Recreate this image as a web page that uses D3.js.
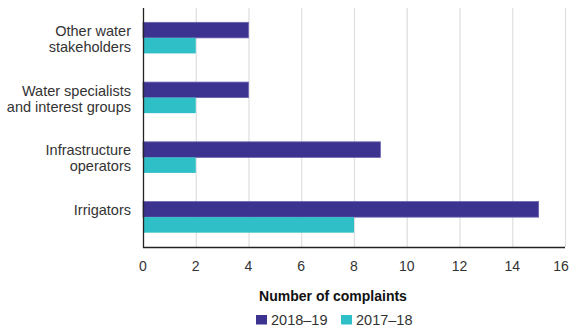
<!DOCTYPE html>
<html><head><meta charset="utf-8">
<script src="https://cdn.jsdelivr.net/npm/d3@7"></script>
<style>body{margin:0;background:#fff}svg{display:block}text{font-family:"Liberation Sans",Arial,sans-serif}</style>
</head><body><svg id="c" width="571" height="329"></svg>
<script>
const categories = [["Other water","stakeholders"],["Water specialists","and interest groups"],["Infrastructure","operators"],["Irrigators"]];
const seriesNames = ["2018–19","2017–18"];
const values2018_19 = [4,4,9,15];
const values2017_18 = [2,2,2,8];
const xTicks = [0,2,4,6,8,10,12,14,16];
const colors = ["#3c3390","#2fbfc7"];

const svg = d3.select("#c");
const pL=143, pR=565, pT=8, pB=247;
const x = d3.scaleLinear().domain([0,16]).range([pL,pR]);
const y = d3.scaleBand().domain(d3.range(categories.length)).range([pT,pB]).paddingInner(0.48).paddingOuter(0.24);
const sub = d3.scaleBand().domain([0,1]).range([0,y.bandwidth()]);

// gridlines
svg.append("g").selectAll("line").data(xTicks.slice(1)).join("line")
  .attr("x1",d=>x(d)+0.5).attr("x2",d=>x(d)+0.5).attr("y1",pT).attr("y2",pB)
  .attr("stroke","#dedede").attr("stroke-width",1.2);

const series=[values2018_19,values2017_18];
series.forEach((vals,si)=>{
  svg.append("g").selectAll("rect").data(vals).join("rect")
    .attr("x",x(0)).attr("y",(d,i)=>y(i)+sub(si))
    .attr("width",d=>x(d)-x(0)).attr("height",sub.bandwidth())
    .attr("fill",colors[si])
    .attr("stroke",si===0?"#6a62b0":"none").attr("stroke-width",0.8);
});

// axes lines
svg.append("line").attr("x1",pL+0.5).attr("x2",pL+0.5).attr("y1",pT).attr("y2",pB+1).attr("stroke","#222").attr("stroke-width",1.3);
svg.append("line").attr("x1",pL).attr("x2",pR).attr("y1",pB+0.5).attr("y2",pB+0.5).attr("stroke","#222").attr("stroke-width",1.3);

// x tick labels
svg.append("g").selectAll("text").data(xTicks).join("text")
  .attr("x",d=>Math.min(x(d),561)).attr("y",271).attr("text-anchor","middle")
  .attr("font-size",14).attr("fill","#333").text(d=>d);

// category labels
categories.forEach((lines,i)=>{
  const cy=y(i)+y.bandwidth()/2;
  const t=svg.append("text").attr("text-anchor","end").attr("font-size",14.5).attr("fill","#333");
  lines.forEach((l,j)=>{
    t.append("tspan").attr("x",131).attr("y",cy-2+j*16).text(l);
  });
});

// axis title
svg.append("text").attr("x",333).attr("y",301).attr("text-anchor","middle")
  .attr("font-size",14).attr("font-weight","bold").attr("fill","#111").text("Number of complaints");

// legend
const legX=[256,341];
seriesNames.forEach((n,i)=>{
  svg.append("rect").attr("x",legX[i]).attr("y",315).attr("width",11).attr("height",9.5).attr("fill",colors[i]);
  svg.append("text").attr("x",legX[i]+15).attr("y",324.5).attr("font-size",14.5).attr("fill","#333").text(n);
});
</script></body></html>
